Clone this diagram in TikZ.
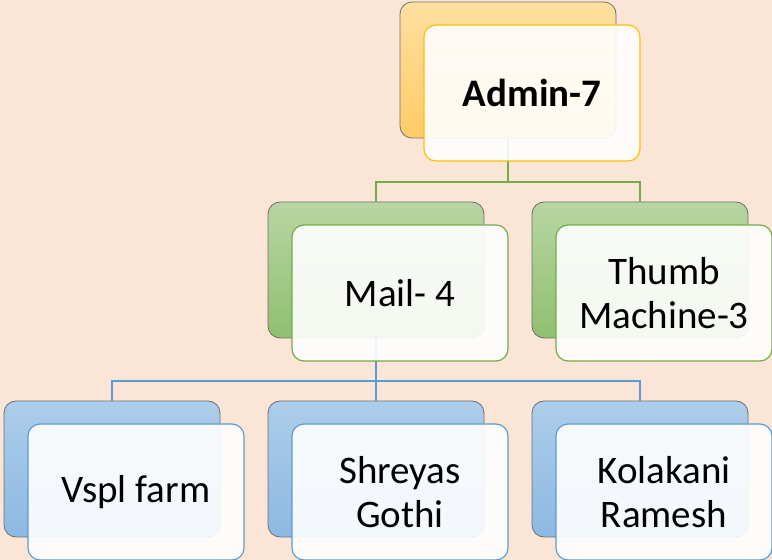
\documentclass[tikz,border=0pt]{standalone}
\usepackage{fontspec}
\setmainfont{Carlito}
\usetikzlibrary{calc}
\definecolor{peach}{HTML}{FBE5D6}
\definecolor{gold}{HTML}{FFC000}
\definecolor{leaf}{HTML}{70AD47}
\definecolor{sky}{HTML}{5B9BD5}
\definecolor{edgegray}{HTML}{6E6E6E}
\definecolor{ambertop}{HTML}{FFDFA0}
\definecolor{amberbot}{HTML}{FFCB68}
\tikzset{
	backbox/.style={draw=edgegray, line width=0.8pt, rounded corners=12pt,
		minimum width=216pt, minimum height=136pt, inner sep=0pt},
	orangeback/.style={backbox, top color=ambertop, bottom color=amberbot},
	greenback/.style={backbox, top color=leaf!50, bottom color=leaf!78},
	blueback/.style={backbox, top color=sky!50, bottom color=sky!70},
	frontbox/.style={draw=#1, line width=1.2pt, rounded corners=12pt, fill=white,
		fill opacity=0.9, text opacity=1, minimum width=216pt, minimum height=136pt,
		align=center, font=\fontsize{39}{44}\selectfont},
	link/.style={draw=#1, line width=2.2pt},
}
\begin{document}
\begin{tikzpicture}[x=1pt, y=1pt]
		\useasboundingbox (0,0) rectangle (772,560);
		\fill[peach] (0,0) rectangle (772,560);
		% back boxes and connectors
		\node[orangeback] (admB) at (508,490) {};
		\node[greenback] (mailB) at (376,290) {};
		\node[greenback] (thumbB) at (640,290) {};
		\node[blueback] (vsplB) at (112,91) {};
		\node[blueback] (shrB) at (376,91) {};
		\node[blueback] (kolB) at (640,91) {};
		\draw[link=leaf] (admB.south) -- ++(0,-44) -| (mailB.north);
		\draw[link=leaf] (admB.south) -- ++(0,-44) -| (thumbB.north);
		\draw[link=sky] (mailB.south) -- ++(0,-43) -| (vsplB.north);
		\draw[link=sky] (mailB.south) -- ++(0,-43) -| (shrB.north);
		\draw[link=sky] (mailB.south) -- ++(0,-43) -| (kolB.north);
		% front boxes
		\node[frontbox=gold, font=\fontsize{39}{44}\selectfont\bfseries] (adm) at ($(admB)+(24,-23)$) {Admin-7};
		\node[frontbox=leaf] (mail) at ($(mailB)+(24,-23)$) {Mail- 4};
		\node[frontbox=leaf] (thumb) at ($(thumbB)+(24,-23)$) {Thumb\\Machine-3};
		\node[frontbox=sky] (vspl) at ($(vsplB)+(24,-23)$) {Vspl farm};
		\node[frontbox=sky] (shr) at ($(shrB)+(24,-23)$) {Shreyas\\Gothi};
		\node[frontbox=sky] (kol) at ($(kolB)+(24,-23)$) {Kolakani\\Ramesh};
	\end{tikzpicture}
\end{document}
